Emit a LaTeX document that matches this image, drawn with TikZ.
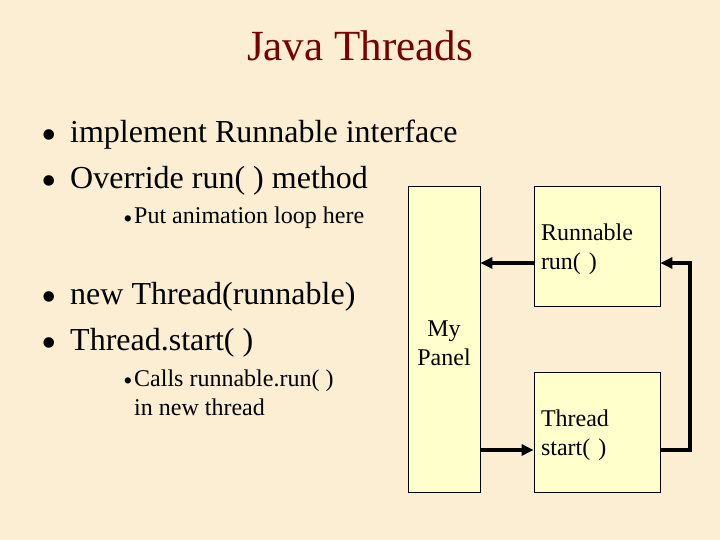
\documentclass[tikz,border=0pt]{standalone}
\usepackage{fontspec}
\setmainfont{Liberation Serif}
\usetikzlibrary{arrows.meta,calc}
\definecolor{bg}{RGB}{251,238,210}
\definecolor{boxfill}{RGB}{255,255,204}
\definecolor{titlered}{RGB}{122,0,0}
\begin{document}
\begin{tikzpicture}[x=1pt,y=-1pt,
  txt/.style={anchor=base west,inner sep=0pt,font=\fontsize{32}{38}\selectfont},
  subtxt/.style={anchor=base west,inner sep=0pt,font=\fontsize{24}{29}\selectfont},
  bul/.style={anchor=base,inner sep=0pt,font=\fontsize{44}{50}\selectfont},
  subbul/.style={anchor=base,inner sep=0pt,font=\fontsize{26}{30}\selectfont},
  box/.style={draw=black,line width=0.8pt,fill=boxfill,minimum width=126pt,minimum height=120pt,
    text width=112pt,align=left,inner xsep=7pt,font=\fontsize{24}{29.5}\selectfont},
  arr/.style={line width=4pt,-{Triangle[length=12pt,width=11pt]}}
]
\useasboundingbox (0,0) rectangle (720,540);
\fill[bg] (0,0) rectangle (720,540);

\node[anchor=base,inner sep=0pt,text=titlered,font=\fontsize{43}{50}\selectfont] (title) at (360,61) {Java Threads};

\node[bul] (b1) at (49,150) {\textbullet};
\node[txt] (t1) at (70,143) {implement Runnable interface};
\node[bul] (b2) at (49,196) {\textbullet};
\node[txt] (t2) at (70,189) {Override run( ) method};
\node[subbul] (b3) at (128,227) {\textbullet};
\node[subtxt] (t3) at (134,224) {Put animation loop here};

\node[bul] (b4) at (49,311) {\textbullet};
\node[txt] (t4) at (70,304) {new Thread(runnable)};
\node[bul] (b5) at (49,357) {\textbullet};
\node[txt] (t5) at (70,350) {Thread.start( )};
\node[subbul] (b6) at (128,389) {\textbullet};
\node[subtxt] (t6) at (134,386) {Calls runnable.run( )};
\node[subtxt] (t7) at (134,415) {in new thread};

\node[box,minimum width=72pt,minimum height=306pt,text width=60pt,inner xsep=6pt,align=center] (panel) at (444,339) {\rule{0pt}{24pt}My\\Panel};
\node[box] (run) at (597,246) {\rule{0pt}{23pt}Runnable\\run( )};
\node[box] (thr) at (597,432) {\rule{0pt}{23pt}Thread\\start( )};

\draw[arr] ([yshift=-17pt]run.west) -- ([yshift=-17pt]run.west -| panel.east);
\draw[arr] ([yshift=-18pt]thr.west -| panel.east) -- ([yshift=-18pt]thr.west);
\draw[arr] ([yshift=-18pt]thr.east) -- ++(30,0) |- ([yshift=-17pt]run.east);
\end{tikzpicture}
\end{document}
